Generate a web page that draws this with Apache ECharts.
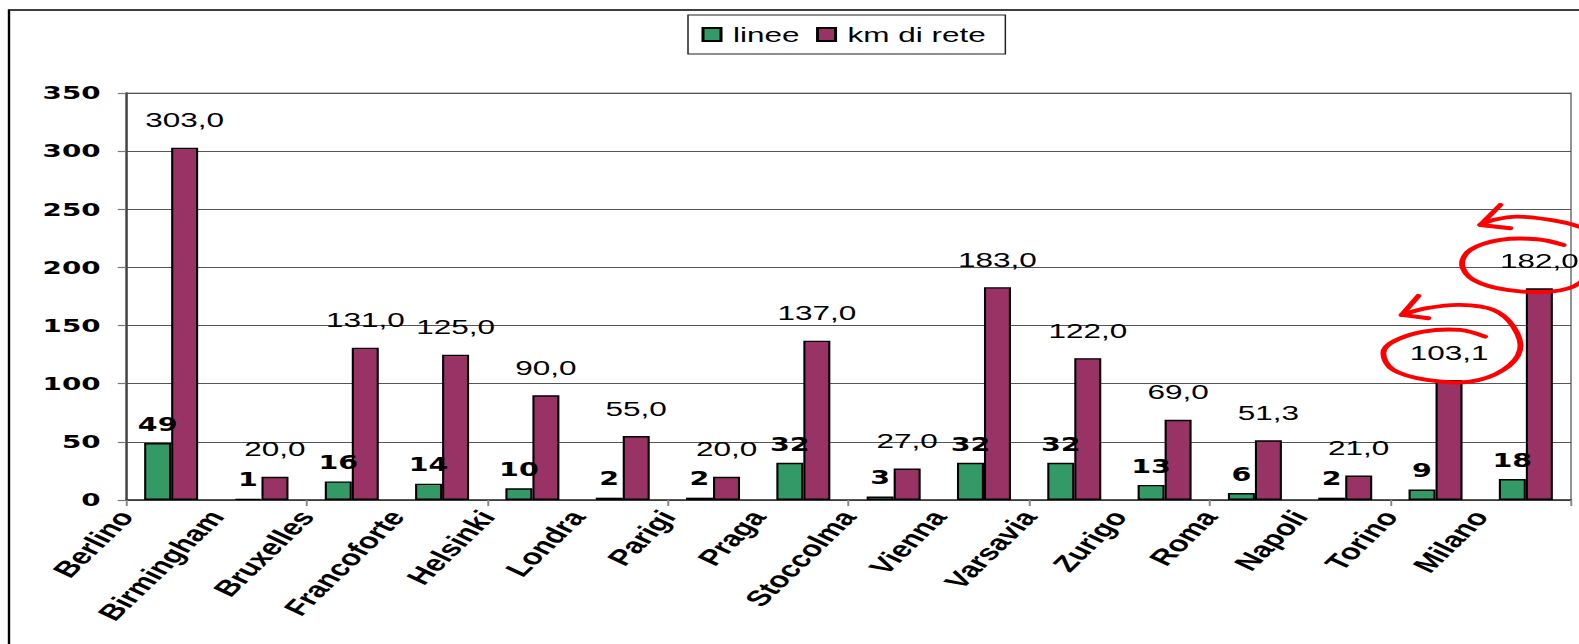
<!DOCTYPE html>
<html>
<head>
<meta charset="utf-8">
<script src="https://cdn.jsdelivr.net/npm/echarts@6/dist/echarts.min.js"></script>
<style>
  html, body { margin: 0; padding: 0; background: #fff; }
  #wrap { width: 1579px; height: 644px; overflow: hidden; position: relative; }
  #chart { height: 644px; transform-origin: 0 0; }
</style>
</head>
<body>
<div id="wrap"><div id="chart"></div></div>
<script>
// Horizontal stretch of the whole drawing (wide, squat lettering)
const SX = 1.5;

const categories = ['Berlino', 'Birmingham', 'Bruxelles', 'Francoforte', 'Helsinki', 'Londra',
  'Parigi', 'Praga', 'Stoccolma', 'Vienna', 'Varsavia', 'Zurigo', 'Roma', 'Napoli', 'Torino', 'Milano'];
const linee = [49, 1, 16, 14, 10, 2, 2, 32, 3, 32, 32, 13, 6, 2, 9, 18];
const kmRete = [303.0, 20.0, 131.0, 125.0, 90.0, 55.0, 20.0, 137.0, 27.0, 183.0, 122.0, 69.0, 51.3, 21.0, 103.1, 182.0];
const yMin = 0, yMax = 350, yStep = 50;
// Cities whose network length is circled in red
const circled = ['Torino', 'Milano'];

const W = 1579 / SX;
const el = document.getElementById('chart');
el.style.width = W + 'px';
el.style.transform = 'scaleX(' + SX + ')';

const chart = echarts.init(el, null, { renderer: 'svg', width: W, height: 644 });

const BAR_W = 18;
const kmFmt = v => v.toFixed(1).replace('.', ',');

const frame = {
  type: 'rect', id: 'frame', silent: true, z: 0,
  shape: { x: 6, y: 10, width: 3000, height: 3000 },
  style: { fill: null, stroke: '#000', lineWidth: 1.6 }
};

chart.setOption({
  animation: false,
  backgroundColor: '#fff',
  legend: {
    data: ['linee', 'km di rete'],
    left: 688 / SX, top: 15,
    padding: [9, 13, 9, 9],
    itemGap: 11,
    itemWidth: 12, itemHeight: 13,
    borderColor: '#222', borderWidth: 1,
    icon: 'rect',
    textStyle: { fontFamily: 'Liberation Sans', fontSize: 21, color: '#000', lineHeight: 21, padding: [0, 0, 0, 3] }
  },
  grid: {
    left: 126 / SX, right: (1579 - 1571) / SX, top: 93, bottom: 144,
    show: true, borderColor: '#888', borderWidth: 1.2, backgroundColor: 'transparent'
  },
  xAxis: [{
    type: 'category',
    data: categories,
    axisLine: { lineStyle: { color: '#333', width: 1.6 } },
    axisTick: { show: true, length: 6, lineStyle: { color: '#888', width: 1.3 } },
    axisLabel: { show: false },
    splitLine: { show: false }
  }, {
    // city names sit at the category boundaries
    type: 'value', min: 0, max: categories.length, interval: 1,
    position: 'bottom',
    axisLine: { show: false }, axisTick: { show: false }, splitLine: { show: false },
    axisLabel: {
      rotate: 55, margin: 13,
      fontFamily: 'Liberation Sans', fontWeight: 'bold', fontSize: 22, color: '#000',
      formatter: v => categories[v] || ''
    }
  }],
  yAxis: {
    type: 'value', min: yMin, max: yMax, interval: yStep,
    axisLine: { show: true, lineStyle: { color: '#444', width: 1.4 } },
    axisTick: { show: true, length: 5.5, lineStyle: { color: '#777', width: 1.2 } },
    axisLabel: { margin: 17, fontFamily: 'DejaVu Sans', fontWeight: 'bold', fontSize: 18.5, color: '#000' },
    splitLine: { show: true, lineStyle: { color: '#555', width: 1 } }
  },
  series: [{
    name: 'linee', type: 'bar', data: linee,
    barWidth: BAR_W, barGap: '0%',
    itemStyle: { color: '#339966', borderColor: '#000', borderWidth: 1.4 },
    label: {
      show: true, position: 'top', distance: 9,
      fontFamily: 'DejaVu Sans', fontWeight: 'bold', fontSize: 19, color: '#000'
    }
  }, {
    name: 'km di rete', type: 'bar', data: kmRete,
    barWidth: BAR_W, barGap: '0%',
    itemStyle: { color: '#993366', borderColor: '#000', borderWidth: 1.4 },
    label: {
      show: true, position: 'top', distance: 17,
      fontFamily: 'Liberation Sans', fontSize: 21, color: '#000',
      formatter: p => kmFmt(p.value)
    }
  }],
  graphic: [frame]
});

// Hand-drawn red loops with arrows, placed relative to the top of each circled bar
// (offsets in screen pixels; x is divided by the stretch factor)
const loops = {
  Milano: {
    path: [[24.3, -43.4], [-2.3, -49.1], [-39, -48.4], [-69, -38.4], [-77.3, -23.4], [-65.7, -8.4],
      [-32.3, 1.6], [11, 3.3], [40, -5.1], [56, -28.4], [56, -53.4], [40, -61.7], [11, -68.4],
      [-22.3, -71.7], [-45.7, -68.4], [-59, -63.4]],
    head: [[-39, -83.4], [-59, -63.4], [-29, -60.1]]
  },
  Torino: {
    path: [[36, -43.5], [11, -50.2], [-25.7, -48.5], [-55.7, -38.5], [-65.7, -26.9], [-55.7, -10.2],
      [-22.3, -0.2], [21, 1.5], [54.3, -10.2], [71, -30.2], [64.3, -53.5], [44.3, -70.2], [11, -75.2],
      [-22.3, -71.9], [-47.3, -65.2]],
    head: [[-30.7, -84.2], [-47.3, -65.2], [-20.7, -61.9]]
  }
};

const graphics = [frame];
circled.forEach(name => {
  const i = categories.indexOf(name);
  const p = chart.convertToPixel({ xAxisIndex: 0, yAxisIndex: 0 }, [i, kmRete[i]]);
  const bx = p[0] + BAR_W / 2, by = p[1];
  const tr = pts => pts.map(([dx, dy]) => [bx + dx / SX, by + dy]);
  graphics.push({
    type: 'polyline', silent: true, z: 100,
    shape: { points: tr(loops[name].path), smooth: 0.35 },
    style: { fill: null, stroke: '#ff0000', lineWidth: 3.9, lineCap: 'round', lineJoin: 'round' }
  });
  graphics.push({
    type: 'polyline', silent: true, z: 100,
    shape: { points: tr(loops[name].head) },
    style: { fill: null, stroke: '#ff0000', lineWidth: 3.9, lineCap: 'round', lineJoin: 'round' }
  });
});
chart.setOption({ graphic: graphics });
</script>
</body>
</html>
